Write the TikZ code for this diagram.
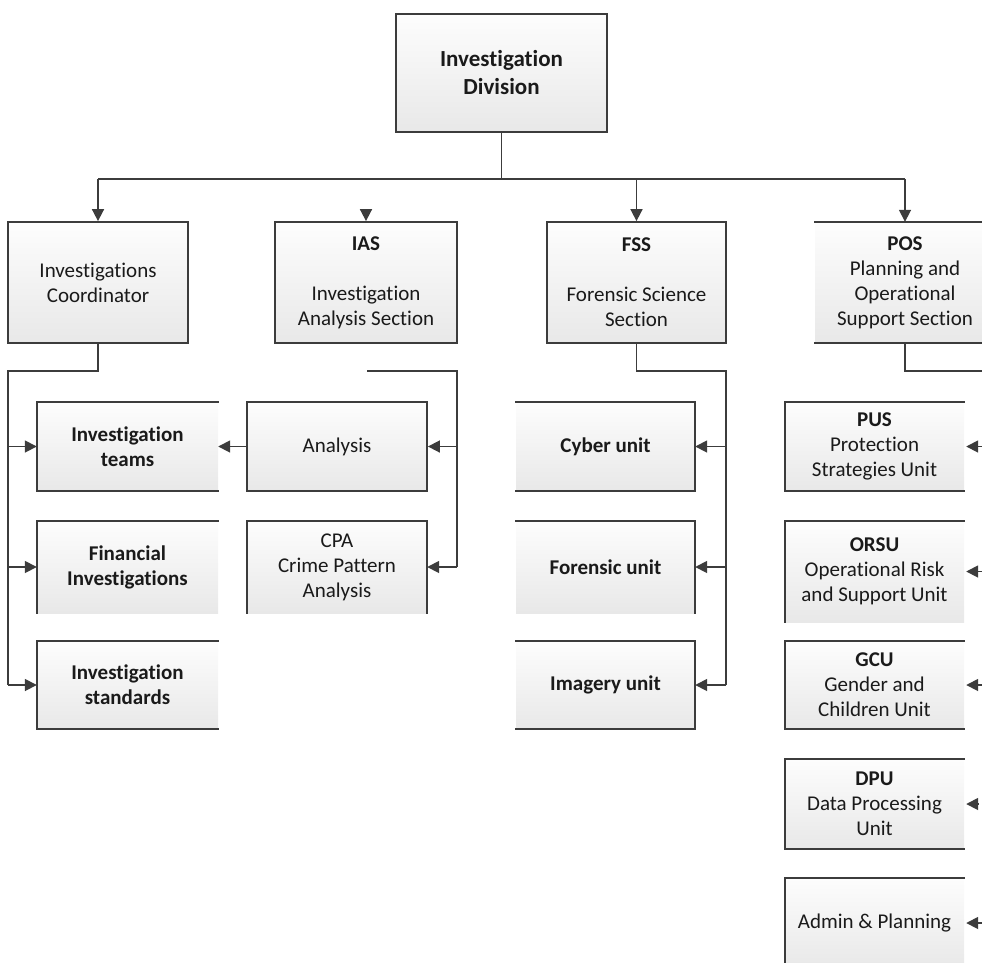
\documentclass[tikz,border=0pt]{standalone}
\usepackage{fontspec}
\setmainfont{Carlito}[Ligatures=NoCommon]
\usetikzlibrary{arrows.meta,calc}
\definecolor{edgegray}{HTML}{3C3C3C}
\definecolor{boxtop}{HTML}{FDFDFD}
\definecolor{boxbot}{HTML}{E8E8E8}
\definecolor{inkgray}{HTML}{1A1A1A}
\begin{document}
\begin{tikzpicture}[x=1pt,y=-1pt,
  unitbox/.style={rectangle, inner sep=0pt, top color=boxtop, bottom color=boxbot,
    align=center, text=inkgray, font=\fontsize{21}{25}\selectfont},
  framed/.style={draw=edgegray, line width=1.8pt},
  rim/.style={draw=edgegray, line width=1.8pt, line cap=rect, line join=miter},
  link/.style={draw=edgegray, line width=1.7pt},
  arr/.style={link, -{Triangle[length=12pt,width=12pt]}}]
\useasboundingbox (0,0) rectangle (982,962);
\clip (0,0) rectangle (982,962);

% ---- head of the division
\node[unitbox, framed, minimum width=211pt, minimum height=118pt,
      font=\fontsize{23}{28}\selectfont\bfseries] (div) at (501.5,73) {Investigation\\Division};

% ---- sections
\node[unitbox, framed, minimum width=180pt, minimum height=121pt] (ic) at (98,282.5)
  {Investigations\\Coordinator};
\node[unitbox, framed, minimum width=182pt, minimum height=121pt] (ias) at (366,282.5)
  {\textbf{IAS}\\[25pt]Investigation\\Analysis Section};
\node[unitbox, framed, minimum width=179pt, minimum height=121pt] (fss) at (636.5,282.5)
  {\textbf{FSS}\\[25pt]Forensic Science\\Section};
\node[unitbox, minimum width=180pt, minimum height=121pt] (pos) at (905,282.5)
  {\textbf{POS}\\Planning and\\Operational\\Support Section};
\draw[rim] (pos.north west) -- (pos.north east);
\draw[rim] (pos.south west) -- (pos.south east);

% ---- coordinator's teams
\node[unitbox, minimum width=181pt, minimum height=89pt, font=\fontsize{21}{25}\selectfont\bfseries]
  (teams) at (127.5,446.5) {Investigation\\teams};
\node[unitbox, minimum width=181pt, minimum height=92pt, font=\fontsize{21}{25}\selectfont\bfseries]
  (fin) at (127.5,567) {Financial\\Investigations};
\node[unitbox, minimum width=181pt, minimum height=88pt, font=\fontsize{21}{25}\selectfont\bfseries]
  (std) at (127.5,685) {Investigation\\standards};
\draw[rim] (teams.north east) -- (teams.north west) -- (teams.south west) -- (teams.south east);
\draw[rim] (fin.north east) -- (fin.north west) -- (fin.south west);
\draw[rim] (std.north east) -- (std.north west) -- (std.south west) -- (std.south east);

% ---- analysis section units
\node[unitbox, framed, minimum width=180pt, minimum height=89pt] (ana) at (337,446.5) {Analysis};
\node[unitbox, minimum width=180pt, minimum height=92pt] (cpa) at (337,567)
  {CPA\\Crime Pattern\\Analysis};
\draw[rim] (cpa.south west) -- (cpa.north west) -- (cpa.north east) -- (cpa.south east);

% ---- forensic units
\node[unitbox, minimum width=179pt, minimum height=89pt, font=\fontsize{21}{25}\selectfont\bfseries]
  (cyber) at (605.5,446.5) {Cyber unit};
\node[unitbox, minimum width=179pt, minimum height=92pt, font=\fontsize{21}{25}\selectfont\bfseries]
  (foren) at (605.5,567) {Forensic unit};
\node[unitbox, minimum width=179pt, minimum height=88pt, font=\fontsize{21}{25}\selectfont\bfseries]
  (imag) at (605.5,685) {Imagery unit};
\draw[rim] (cyber.north west) -- (cyber.north east) -- (cyber.south east) -- (cyber.south west);
\draw[rim] (foren.north west) -- (foren.north east) -- (foren.south east);
\draw[rim] (imag.north west) -- (imag.north east) -- (imag.south east) -- (imag.south west);

% ---- planning and support units
\node[unitbox, minimum width=179pt, minimum height=89pt] (pus) at (874.5,446.5)
  {\textbf{PUS}\\Protection\\Strategies Unit};
\node[unitbox, minimum width=179pt, minimum height=101pt] (orsu) at (874.5,571.5)
  {\textbf{ORSU}\\Operational Risk\\and Support Unit};
\node[unitbox, minimum width=179pt, minimum height=88pt] (gcu) at (874.5,685)
  {\textbf{GCU}\\Gender and\\Children Unit};
\node[unitbox, minimum width=179pt, minimum height=90pt] (dpu) at (874.5,804)
  {\textbf{DPU}\\Data Processing\\Unit};
\node[unitbox, minimum width=179pt, minimum height=90pt] (admin) at (874.5,923)
  {Admin \& Planning};
\draw[rim] (pus.north east) -- (pus.north west) -- (pus.south west) -- (pus.south east);
\draw[rim] (orsu.north east) -- (orsu.north west) -- (orsu.south west);
\draw[rim] (gcu.north east) -- (gcu.north west) -- (gcu.south west) -- (gcu.south east);
\draw[rim] (dpu.north east) -- (dpu.north west) -- (dpu.south west) -- (dpu.south east);
\draw[rim] (admin.north east) -- (admin.north west) -- (admin.south west);

% ---- division bus
\draw[link] (div.south) -- ++(0,46) coordinate (bus);
\draw[link] (bus -| ic.north) -- (bus -| pos.north);
\draw[arr] (bus -| ic.north) -- (ic.north);
\draw[arr] (bus -| fss.north) -- (fss.north);
\draw[arr] (bus -| pos.north) -- (pos.north);
\draw[arr] ([yshift=12pt]ias.north) -- (ias.north);

% ---- coordinator branch
\coordinate (icbus) at (8,371);
\draw[link] (ic.south) |- (icbus) -- (icbus |- std.west);
\draw[arr] (icbus |- teams.west) -- (teams.west);
\draw[arr] (icbus |- fin.west) -- (fin.west);
\draw[arr] (icbus |- std.west) -- (std.west);

% ---- analysis branch
\coordinate (iasstart) at (367,371);
\coordinate (iasbus) at (457,371);
\draw[link] (iasstart) -- (iasbus) -- (iasbus |- cpa.east);
\draw[arr] (iasbus |- ana.east) -- (ana.east);
\draw[arr] (iasbus |- cpa.east) -- (cpa.east);
\draw[arr] (ana.west) -- (teams.east);

% ---- forensic branch
\coordinate (fssbus) at (726,371);
\draw[link] (fss.south) |- (fssbus) -- (fssbus |- imag.east);
\draw[arr] (fssbus |- cyber.east) -- (cyber.east);
\draw[arr] (fssbus |- foren.east) -- (foren.east);
\draw[arr] (fssbus |- imag.east) -- (imag.east);

% ---- planning branch
\coordinate (posbus) at (990,371);
\draw[link] (pos.south) |- (posbus);
\coordinate (rail) at (990,0);
\draw[arr] (rail |- pus.east) -- ([xshift=2pt]pus.east);
\draw[arr] (rail |- orsu.east) -- ([xshift=2pt]orsu.east);
\draw[arr] (rail |- gcu.east) -- ([xshift=2pt]gcu.east);
\draw[arr] ([xshift=14pt]dpu.east) -- ([xshift=2pt]dpu.east);
\draw[arr] (rail |- admin.east) -- ([xshift=2pt]admin.east);
\end{tikzpicture}
\end{document}
